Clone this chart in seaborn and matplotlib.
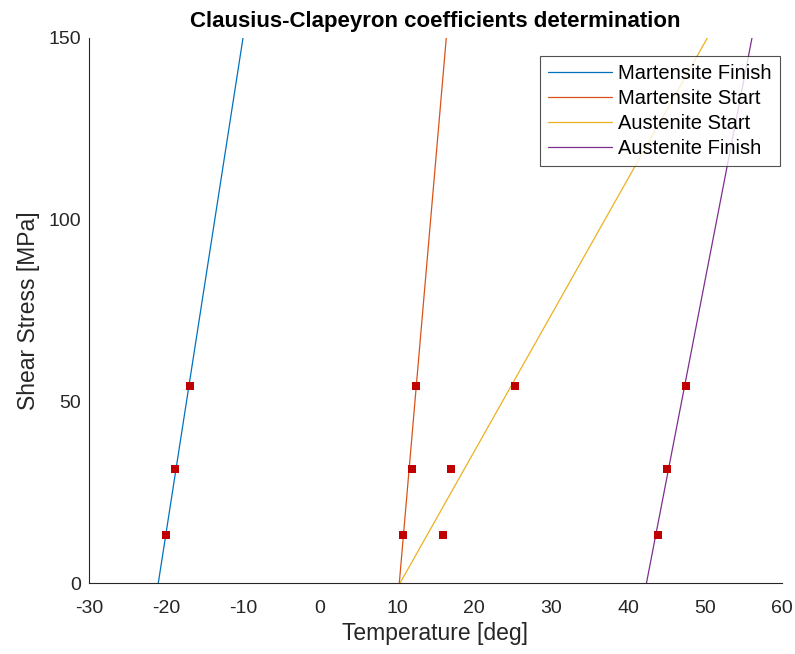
import numpy as np
import pandas as pd
import matplotlib
matplotlib.use("Agg")
import matplotlib.pyplot as plt
import seaborn as sns

# Data
series = ["Martensite Finish", "Martensite Start", "Austenite Start", "Austenite Finish"]
colors = ["#0072BD", "#D95319", "#EDB120", "#7E2F8E"]
stress_ends = [0, 150]
# temperatures of fitted lines at stress 0 and stress 150
mf_line = [-21.0, -10.0]
ms_line = [10.3, 16.4]
as_line = [10.4, 50.3]
af_line = [42.4, 56.1]

stress_pts = [13.1, 31.4, 54.3]
mf_pts = [-20.0, -18.8, -16.9]
ms_pts = [10.8, 11.9, 12.5]
as_pts = [16.0, 17.0, 25.3]
af_pts = [43.9, 45.0, 47.5]

lines_df = pd.DataFrame({
    "Temperature": mf_line + ms_line + as_line + af_line,
    "Stress": stress_ends * 4,
    "series": [s for s in series for _ in range(2)],
})
pts_df = pd.DataFrame({
    "Temperature": mf_pts + ms_pts + as_pts + af_pts,
    "Stress": stress_pts * 4,
})

sns.set_style("white")
plt.rcParams['font.family'] = ['Liberation Sans', 'DejaVu Sans']
plt.rcParams['axes.unicode_minus'] = False

fig = plt.figure(figsize=(7.95, 6.54), dpi=100)
ax = fig.add_axes([89/795, 71/654, 693/795, 545/654])

sns.lineplot(data=lines_df, x="Temperature", y="Stress", hue="series",
             palette=colors, hue_order=series, sort=False, estimator=None,
             linewidth=0.9, ax=ax)
sns.scatterplot(data=pts_df, x="Temperature", y="Stress", marker="s", s=30,
                color="#C00000", edgecolor="#C00000", linewidth=0, ax=ax,
                legend=False, zorder=5)

ax.set_xlim(-30, 60)
ax.set_ylim(0, 150)
ax.set_xticks(np.arange(-30, 61, 10))
ax.set_yticks([0, 50, 100, 150])
ax.tick_params(direction="in", length=4, width=0.8, labelsize=14,
               colors="#262626", labelcolor="#262626")
ax.tick_params(axis="x", pad=12)
ax.tick_params(axis="y", pad=6)
for sp in ["top", "right"]:
    ax.spines[sp].set_visible(False)
for sp in ["left", "bottom"]:
    ax.spines[sp].set_color("#262626")
    ax.spines[sp].set_linewidth(0.8)

ax.set_xlabel("Temperature [deg]", fontsize=16.5, color="#262626", labelpad=4)
ax.set_ylabel("Shear Stress [MPa]", fontsize=16.5, color="#262626", labelpad=6)
ax.set_title("Clausius-Clapeyron coefficients determination", fontsize=16,
             fontweight="bold", color="black", pad=8)

leg = ax.legend(loc="upper right", bbox_to_anchor=(0.997, 0.967), borderaxespad=0,
                fontsize=14.5, handlelength=3.2, frameon=True, fancybox=False,
                borderpad=0.4, labelspacing=0.3, handletextpad=0.3)
leg.get_frame().set_edgecolor("#262626")
leg.get_frame().set_linewidth(0.8)
for t in leg.get_texts():
    t.set_color("black")

fig.savefig("out.png", dpi=100)
